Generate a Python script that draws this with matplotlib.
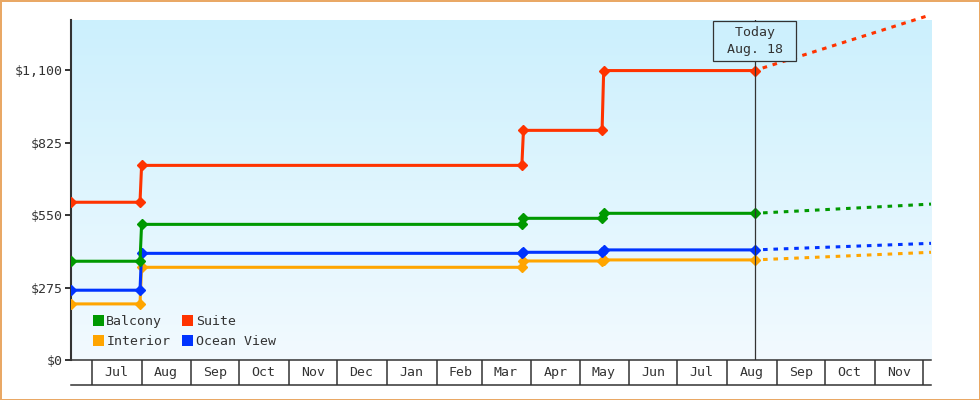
import numpy as np
import pandas as pd
import matplotlib
matplotlib.use("Agg")
import matplotlib.pyplot as plt
import matplotlib.dates as mdates
from matplotlib.colors import LinearSegmentedColormap
from matplotlib.patches import Patch

# ---- data ----
dates = pd.to_datetime(["2022-06-18", "2022-07-31", "2022-08-01", "2023-03-26",
                        "2023-03-27", "2023-05-15", "2023-05-16", "2023-08-18"])
balcony = [375, 375, 515, 515, 538, 538, 557, 557]
suite = [599, 599, 739, 739, 872, 872, 1099, 1099]
interior = [213, 213, 352, 352, 376, 376, 380, 380]
ocean_view = [265, 265, 405, 405, 409, 409, 418, 418]

proj_dates = pd.to_datetime(["2023-08-18", "2023-12-06"])
balcony_proj = [557, 592]
suite_proj = [1099, 1311]
interior_proj = [380, 409]
ocean_view_proj = [418, 443]

series_names = ["Balcony", "Interior", "Suite", "Ocean View"]
colors = {"Balcony": "#009900", "Interior": "#ffa500", "Suite": "#ff3300", "Ocean View": "#0033ff"}
hist = {"Balcony": balcony, "Interior": interior, "Suite": suite, "Ocean View": ocean_view}
proj = {"Balcony": balcony_proj, "Interior": interior_proj, "Suite": suite_proj, "Ocean View": ocean_view_proj}

y_ticks = [0, 275, 550, 825, 1100]
y_tick_labels = ["$0", "$275", "$550", "$825", "$1,100"]
x_start, x_end = pd.Timestamp("2022-06-18"), pd.Timestamp("2023-12-06")
today = pd.Timestamp("2023-08-18")
today_label = " Today \n Aug. 18 "

# ---- style ----
dark = "#333333"
plt.rcParams["font.family"] = ["DejaVu Sans Mono"]
plt.rcParams["font.size"] = 9.5

fig = plt.figure(figsize=(9.8, 4.0), dpi=100, facecolor="white",
                 edgecolor="#e9a865", linewidth=2.0)
ax = fig.add_axes([71 / 980, 40 / 400, 860 / 980, 340 / 400])

# gradient background
cmap = LinearSegmentedColormap.from_list("bg", ["#f2faff", "#ccf0fd"])
ax.imshow(np.linspace(0, 1, 256).reshape(-1, 1), extent=[0, 1, 0, 1],
          transform=ax.transAxes, aspect="auto", cmap=cmap, origin="lower", zorder=0)

for name in ["Interior", "Ocean View", "Balcony", "Suite"]:
    c = colors[name]
    ax.plot(dates, hist[name], color=c, lw=2.2, marker="D", ms=5.0,
            solid_joinstyle="miter", zorder=3)
    ax.plot(proj_dates, proj[name], color=c, lw=2.2, linestyle=(4, (1.5, 1.9)),
            clip_on=False, zorder=3)

ax.set_xlim(x_start, x_end)
ax.set_ylim(0, 1291)

# today marker
pad_em = 0.4
today_num = mdates.date2num(today)
ax.axvline(today, color=dark, lw=0.9, zorder=4)
ax.annotate(today_label, xy=(today_num, 1.0), xycoords=ax.get_xaxis_transform(),
            xytext=(0, -pad_em * 9.5 - 0.6), textcoords="offset points",
            ha="center", va="top", color=dark, linespacing=1.38, zorder=6,
            bbox=dict(boxstyle=f"square,pad={pad_em}", fc="#cdf0fd", ec=dark, lw=0.9),
            annotation_clip=False)

# y axis
ax.set_yticks(y_ticks)
ax.set_yticklabels(y_tick_labels)
ax.tick_params(axis="y", direction="out", length=4, width=1.4, color=dark,
               labelcolor=dark, pad=2)

# x axis: month cells
ax.xaxis.set_major_locator(mdates.MonthLocator())
ax.xaxis.set_major_formatter(plt.NullFormatter())
ax.xaxis.set_minor_locator(mdates.MonthLocator(bymonthday=16))
ax.xaxis.set_minor_formatter(mdates.DateFormatter("%b"))
ax.tick_params(axis="x", which="major", direction="out", length=18, width=1.1, color=dark)
ax.tick_params(axis="x", which="minor", length=0, pad=4.6, labelcolor=dark)

for s in ["top", "right"]:
    ax.spines[s].set_visible(False)
ax.spines["left"].set_color(dark)
ax.spines["left"].set_linewidth(1.5)
ax.spines["bottom"].set_color(dark)
ax.spines["bottom"].set_linewidth(1.1)

sec = ax.secondary_xaxis(-25 / 340)
sec.set_xticks([])
sec.spines["bottom"].set_color(dark)
sec.spines["bottom"].set_linewidth(1.1)

# legend
handles = [Patch(facecolor=colors[n], edgecolor="none") for n in series_names]
leg = ax.legend(handles, series_names, ncol=2, loc="lower left",
                bbox_to_anchor=(0.025, 0.035), frameon=False, borderpad=0,
                borderaxespad=0, handlelength=0.85, handleheight=0.85,
                handletextpad=0.2, columnspacing=0.9, labelspacing=0.55)
for t in leg.get_texts():
    t.set_color(dark)

fig.savefig("out.png", dpi=100)
